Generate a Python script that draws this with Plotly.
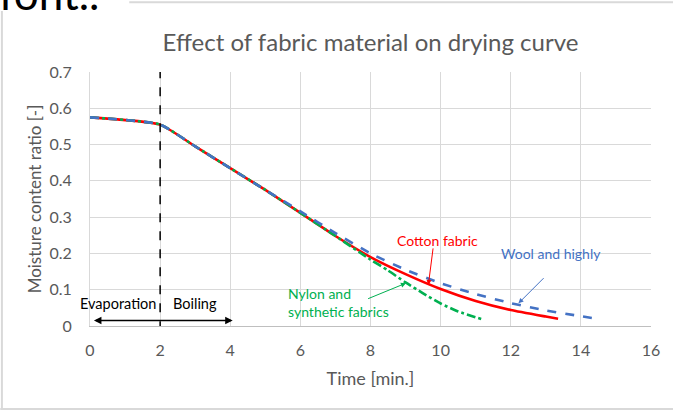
import plotly.graph_objects as go

# ---- data ----
cotton_x = [0, 2, 3, 4, 5, 6, 7, 8, 9, 10, 11, 12, 13, 13.35]
cotton_y = [0.575, 0.555, 0.495, 0.435, 0.375, 0.312, 0.248, 0.19, 0.143, 0.102, 0.069, 0.044, 0.026, 0.02]

wool_x = [0, 2, 3, 4, 5, 6, 7, 8, 9, 10, 11, 12, 13, 14, 14.45]
wool_y = [0.575, 0.555, 0.495, 0.435, 0.375, 0.316, 0.256, 0.2, 0.155, 0.118, 0.088, 0.063, 0.043, 0.027, 0.02]

nylon_x = [0, 2, 3, 4, 5, 6, 7, 8, 8.5, 9, 9.5, 10, 10.5, 11.2]
nylon_y = [0.575, 0.555, 0.495, 0.435, 0.375, 0.312, 0.248, 0.183, 0.153, 0.12, 0.09, 0.062, 0.04, 0.018]

title_text = "Effect of fabric material on drying curve"
x_title = "Time [min.]"
y_title = "Moisture content ratio [-]"

FONT = "Lato, 'Open Sans', sans-serif"
GRAY = "#595959"
GRID = "#d9d9d9"
RED = "#ff0000"
BLUE = "#4472c4"
GREEN = "#00b050"

fig = go.Figure()
fig.add_trace(go.Scatter(x=cotton_x, y=cotton_y, mode="lines", name="Cotton fabric",
                         line=dict(color=RED, width=2.6, shape="spline", smoothing=0.5)))
fig.add_trace(go.Scatter(x=nylon_x, y=nylon_y, mode="lines", name="Nylon and synthetic fabrics",
                         line=dict(color=GREEN, width=2.6, dash="dashdot", shape="spline", smoothing=0.5)))
fig.add_trace(go.Scatter(x=wool_x, y=wool_y, mode="lines", name="Wool and highly",
                         line=dict(color=BLUE, width=2.6, dash="dash", shape="spline", smoothing=0.5)))

# vertical dashed separator at t = 2
fig.add_shape(type="line", xref="x", yref="y", x0=2, x1=2, y0=-0.012, y1=0.7,
              line=dict(color="black", width=1.5, dash="dash"))

# double arrow (evaporation / boiling)
fig.add_annotation(x=4.07, y=0.015, ax=0.07, ay=0.015, xref="x", yref="y", axref="x", ayref="y",
                   text="", showarrow=True, arrowhead=2, startarrowhead=2, arrowside="end+start",
                   arrowsize=1, arrowwidth=1.5, arrowcolor="black")
fig.add_annotation(x=0.8, y=0.061, xref="x", yref="y", text="Evaporation", showarrow=False,
                   font=dict(family=FONT, size=14.5, color="black"))
fig.add_annotation(x=3.0, y=0.061, xref="x", yref="y", text="Boiling", showarrow=False,
                   font=dict(family=FONT, size=14.5, color="black"))

# series labels with arrows
fig.add_annotation(x=9.9, y=0.237, xref="x", yref="y", text="Cotton fabric", showarrow=False,
                   font=dict(family=FONT, size=14, color=RED))
fig.add_annotation(x=9.65, y=0.113, ax=9.79, ay=0.218, xref="x", yref="y", axref="x", ayref="y",
                   text="", showarrow=True, arrowhead=2, arrowsize=1, arrowwidth=1, arrowcolor=RED)

fig.add_annotation(x=13.15, y=0.201, xref="x", yref="y", text="Wool and highly", showarrow=False,
                   font=dict(family=FONT, size=14, color=BLUE))
fig.add_annotation(x=12.22, y=0.0625, ax=12.98, ay=0.136, xref="x", yref="y", axref="x", ayref="y",
                   text="", showarrow=True, arrowhead=2, arrowsize=1, arrowwidth=1, arrowcolor=BLUE)

fig.add_annotation(x=5.6, y=0.066, xref="x", yref="y", text="Nylon and<br>synthetic fabrics",
                   showarrow=False, xanchor="left", align="left",
                   font=dict(family=FONT, size=14, color=GREEN))
fig.add_annotation(x=9.01, y=0.118, ax=7.89, ay=0.0736, xref="x", yref="y", axref="x", ayref="y",
                   text="", showarrow=True, arrowhead=2, arrowsize=1, arrowwidth=1, arrowcolor=GREEN)

# cut-off slide text at the top-left
fig.add_annotation(x=-0.166, y=1.2, xref="paper", yref="paper", text="font..", showarrow=False,
                   xanchor="left", yanchor="bottom", font=dict(family=FONT, size=44, color="black"))

# slide frame lines
fig.add_shape(type="line", xref="paper", yref="paper", x0=-0.157, x1=-0.157, y0=-0.327, y1=1.24,
              line=dict(color=GRID, width=2))
fig.add_shape(type="line", xref="paper", yref="paper", x0=0.07, x1=1.04, y0=1.275, y1=1.275,
              line=dict(color=GRID, width=2))
fig.add_shape(type="line", xref="paper", yref="paper", x0=-0.16, x1=1.04, y0=-0.327, y1=-0.327,
              line=dict(color=GRID, width=2))

fig.update_layout(
    width=673, height=411,
    margin=dict(l=90, r=22, t=72, b=85, autoexpand=False),
    paper_bgcolor="white", plot_bgcolor="white",
    showlegend=False,
    font=dict(family=FONT, color=GRAY),
    title=dict(text=title_text, x=0.5, xref="paper", y=1 - 43 / 411, yref="container",
               xanchor="center", yanchor="middle", font=dict(family=FONT, size=24, color=GRAY)),
)
fig.update_xaxes(range=[0, 16], dtick=2, tick0=0, showgrid=True, gridcolor=GRID, gridwidth=1,
                 zeroline=False, showline=True, linecolor="#bfbfbf", linewidth=1, mirror=False,
                 ticks="", ticklabelstandoff=10, automargin=False,
                 tickfont=dict(family=FONT, size=16, color=GRAY),
                 title=dict(text=x_title, standoff=14, font=dict(family=FONT, size=18, color=GRAY)))
fig.update_yaxes(range=[0, 0.7], dtick=0.1, tick0=0, showgrid=True, gridcolor=GRID, gridwidth=1,
                 zeroline=False, showline=True, linecolor=GRID, linewidth=1, mirror=False,
                 ticks="", ticklabelstandoff=14, automargin=False,
                 tickfont=dict(family=FONT, size=16, color=GRAY),
                 title=dict(text=y_title, standoff=3, font=dict(family=FONT, size=17, color=GRAY)))

fig.write_html("out.html", config={"displayModeBar": False},
               post_script="document.body.style.margin='0';")
